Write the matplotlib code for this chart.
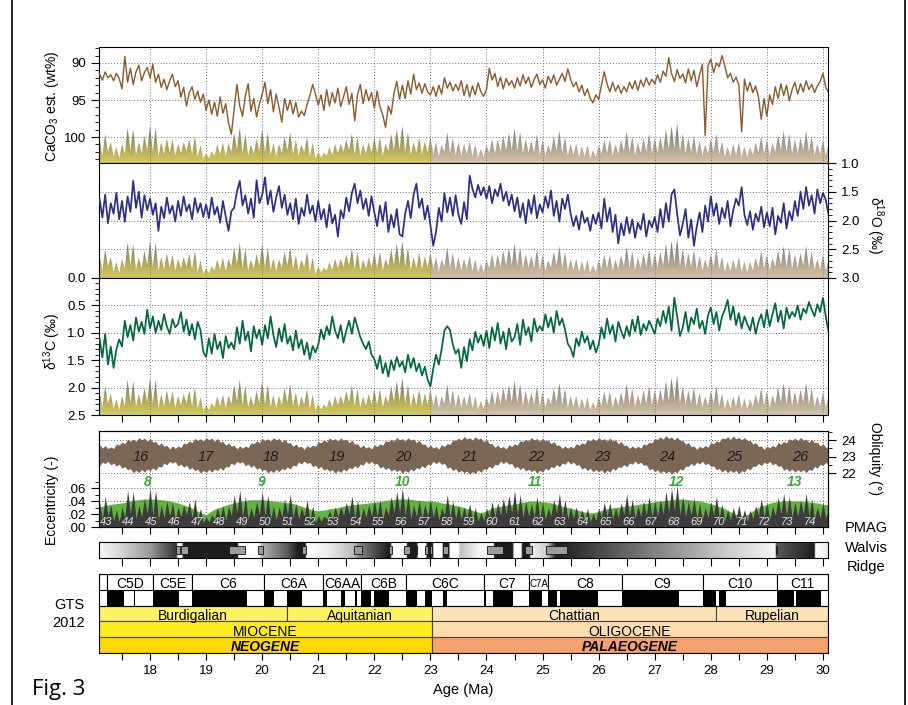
import numpy as np
import matplotlib.pyplot as plt
from matplotlib.patches import Rectangle, Polygon
from matplotlib.lines import Line2D
from matplotlib.ticker import FuncFormatter

plt.rcParams['font.family'] = ['Liberation Sans', 'DejaVu Sans']
plt.rcParams['mathtext.default'] = 'regular'

W, H = 908, 705
X0, X1 = 17.09, 30.09

# ---------------- proxy records, 0.05 Myr steps from 17.10 Ma ----------------
caco3 = [91.5, 92.3, 91.2, 92.0, 91.6, 92.4, 91.4, 92.1,
         93.5, 89.1, 92.6, 90.7, 92.9, 91.2, 90.3, 92.4, 91.3, 90.6,
         92.0, 90.2, 92.6, 91.5, 93.3, 92.2, 93.6, 92.4, 91.5, 93.2,
         92.4, 94.6, 93.3, 95.8, 94.0, 93.2, 94.9, 93.8, 95.3, 94.2,
         96.4, 95.0, 96.9, 95.3, 97.2, 94.6, 96.8, 95.5, 98.1, 99.6,
         96.3, 92.9, 95.8, 97.2, 94.4, 92.8, 96.5, 94.8, 97.3, 95.6,
         94.2, 92.6, 95.5, 93.6, 96.6, 94.2, 96.0, 98.0, 94.8, 96.4,
         95.0, 96.9, 95.3, 97.3, 96.5, 97.1, 95.6, 94.4, 92.9, 94.2,
         95.7, 94.3, 96.4, 93.6, 95.8, 94.0, 95.4, 93.4, 95.9, 94.6,
         93.2, 95.6, 94.1, 97.8, 94.3, 92.9, 95.5, 93.6, 95.1, 94.0,
         96.1, 93.8, 95.9, 97.0, 98.7, 95.8, 96.9, 94.1, 92.5, 94.9,
         93.0, 94.8, 92.4, 94.2, 91.5, 93.6, 92.7, 94.1, 92.8, 93.9,
         94.3, 93.2, 94.5, 93.0, 94.2, 92.0, 93.4, 92.6, 93.8, 92.9,
         93.7, 92.4, 94.4, 92.9, 94.6, 93.1, 94.3, 92.7, 93.9, 94.5,
         93.6, 90.7, 92.3, 91.4, 93.2, 91.9, 93.5, 92.1, 93.0, 92.4,
         93.4, 92.0, 93.1, 91.6, 92.8, 91.9, 93.3, 92.2, 91.5, 92.9,
         92.3, 93.4, 91.8, 92.7, 91.6, 93.0, 92.2, 91.4, 92.5, 90.8,
         92.2, 93.2, 92.6, 93.9, 93.0, 94.4, 93.5, 94.8, 95.4, 94.3,
         94.9, 93.0, 91.2, 92.8, 93.9, 92.6, 93.8, 93.0, 94.1, 93.2,
         93.9, 92.6, 93.5, 92.4, 93.7, 92.3, 93.2, 92.0, 93.0, 92.2,
         92.8, 91.6, 92.6, 91.1, 91.8, 89.3, 91.4, 92.5, 90.9, 92.1,
         91.5, 92.7, 90.8, 92.4, 91.0, 93.2, 91.6, 90.2, 99.8, 90.4,
         89.5, 91.3, 90.0, 90.5, 89.0, 90.4, 92.0, 91.4, 92.6, 91.9,
         93.0, 99.3, 92.2, 93.8, 92.6, 94.0, 93.1, 94.6, 97.6, 94.8,
         97.2, 94.3, 95.6, 93.2, 94.8, 92.8, 94.4, 93.0, 95.1, 93.6,
         92.6, 94.2, 92.8, 93.9, 92.4, 93.6, 92.9, 94.0, 93.1, 92.5, 91.4, 93.3, 94.0]

d18o = [1.62, 1.95, 1.55, 2.05, 1.70, 1.88, 1.52, 1.98,
        1.66, 2.02, 1.58, 1.85, 1.31, 1.78, 1.50, 1.95, 1.56, 1.82,
        1.62, 1.90, 1.70, 2.18, 1.76, 1.96, 1.60, 1.88, 1.74, 2.02,
        1.66, 1.92, 1.58, 1.84, 1.72, 1.98, 1.61, 1.86, 1.70, 1.94,
        1.72, 1.96, 1.60, 1.90, 1.76, 2.04, 1.66, 1.93, 2.18, 1.84,
        1.78, 1.50, 1.31, 1.74, 1.56, 1.88, 1.62, 1.95, 1.30, 1.70,
        1.56, 1.25, 1.72, 1.48, 1.85, 1.60, 1.40, 1.78, 1.55, 1.90,
        1.70, 1.98, 1.62, 2.06, 1.78, 1.92, 1.55, 1.88, 1.74, 2.02,
        1.66, 1.98, 1.80, 2.12, 1.72, 2.05, 1.90, 2.28, 1.82, 1.96,
        1.60, 1.84, 1.52, 1.36, 1.70, 1.48, 1.80, 1.62, 1.92, 1.58,
        1.86, 2.10, 1.74, 2.02, 1.68, 2.20, 1.90, 2.12, 1.80, 2.24,
        2.28, 1.88, 1.66, 1.96, 1.55, 1.36, 1.78, 1.62, 1.98, 1.74,
        2.08, 2.44, 2.20, 1.78, 2.02, 1.52, 1.86, 1.60, 1.92, 1.56,
        1.90, 2.06, 1.68, 1.98, 1.22, 1.45, 1.60, 1.38, 1.56, 1.42,
        1.62, 1.40, 1.70, 1.46, 1.58, 1.36, 1.66, 1.50, 1.74, 1.55,
        1.84, 1.60, 1.95, 1.70, 2.05, 1.64, 1.88, 1.56, 1.96, 1.72,
        1.86, 1.58, 1.78, 1.48, 1.92, 1.66, 2.02, 1.62, 1.80, 1.55,
        1.88, 2.10, 1.92, 2.16, 1.84, 2.04, 1.95, 2.18, 1.90, 2.06,
        1.86, 2.14, 1.62, 2.02, 1.78, 2.20, 1.90, 2.40, 2.05, 2.26,
        1.94, 2.22, 1.98, 2.30, 2.04, 2.16, 1.88, 2.28, 2.00, 2.12,
        1.94, 2.20, 1.80, 2.12, 1.70, 2.02, 1.55, 1.46, 1.88, 2.26,
        2.06, 1.80, 2.30, 1.98, 2.44, 2.10, 1.86, 2.20, 1.74, 2.02,
        1.58, 1.92, 1.70, 2.06, 1.78, 1.96, 1.66, 2.10, 1.82, 1.62,
        1.74, 1.42, 1.90, 2.08, 1.84, 2.16, 1.88, 2.02, 1.76, 2.12,
        1.86, 2.10, 1.78, 2.24, 1.92, 2.04, 1.70, 2.14, 1.84, 2.00,
        1.66, 1.92, 1.50, 1.80, 1.42, 1.74, 1.56, 1.88, 1.46, 1.70, 1.52, 1.64, 1.90]

d13c = [1.10, 1.45, 1.02, 1.58, 1.25, 1.64, 1.30, 1.12,
        1.25, 0.78, 1.08, 0.86, 1.14, 0.72, 0.98, 0.80, 1.02, 0.58,
        0.92, 0.70, 1.00, 0.78, 0.95, 0.66, 0.88, 1.02, 0.75, 0.90,
        0.84, 0.62, 0.98, 0.76, 1.05, 0.84, 1.12, 0.80, 0.95, 1.35,
        1.44, 1.10, 1.38, 1.02, 1.30, 1.16, 1.46, 1.06, 1.28, 1.18,
        1.30, 0.90, 1.20, 0.78, 1.14, 0.98, 1.34, 0.88, 1.10, 0.94,
        1.22, 0.86, 1.10, 0.70, 1.04, 1.26, 0.92, 1.16, 0.84, 1.20,
        1.06, 1.32, 0.96, 1.28, 1.12, 1.40, 1.18, 1.48, 1.24, 1.36,
        1.22, 0.94, 1.12, 0.88, 1.04, 0.70, 0.96, 1.10, 0.86, 1.18,
        0.96, 0.78, 1.02, 0.72, 0.90, 1.08, 1.20, 1.30, 1.16, 1.40,
        1.48, 1.66, 1.42, 1.74, 1.55, 1.80, 1.50, 1.68, 1.44, 1.62,
        1.52, 1.72, 1.40, 1.64, 1.46, 1.70, 1.56, 1.78, 1.62, 1.85,
        1.98, 1.66, 1.40, 1.58, 1.30, 0.96, 0.88, 0.95, 1.22, 1.38,
        1.30, 1.64, 1.26, 1.52, 1.12, 1.32, 0.98, 1.18, 1.04, 1.24,
        0.96, 1.28, 0.90, 1.14, 0.82, 1.20, 0.98, 1.30, 0.92, 1.16,
        1.08, 0.84, 1.22, 0.76, 1.04, 0.90, 1.16, 0.74, 0.98, 0.88,
        0.96, 0.66, 0.90, 0.72, 1.00, 0.60, 0.86, 0.74, 0.94, 1.20,
        1.28, 1.44, 1.10, 1.24, 0.98, 1.18, 1.06, 1.30, 1.14, 1.36,
        1.22, 0.90, 1.10, 0.74, 1.02, 0.86, 1.16, 0.80, 0.96, 1.10,
        0.88, 1.06, 0.76, 0.98, 0.70, 1.04, 0.84, 0.96, 0.78, 0.90,
        1.02, 0.74, 0.88, 0.60, 0.82, 0.52, 0.96, 0.36, 0.70, 1.06,
        0.90, 0.62, 0.98, 0.72, 0.84, 0.56, 0.92, 0.78, 1.02, 0.68,
        0.54, 0.84, 0.62, 0.96, 0.70, 0.58, 0.40, 0.76, 0.52, 0.86,
        0.64, 0.92, 0.70, 0.84, 0.96, 0.72, 1.02, 0.80, 0.66, 0.90,
        0.58, 0.88, 0.66, 0.46, 0.80, 0.60, 0.92, 0.54, 0.74, 0.62,
        0.70, 0.50, 0.76, 0.56, 0.64, 0.44, 0.58, 0.70, 0.48, 0.62, 0.36, 0.70, 0.98]

# eccentricity: maxima at 17.10, 17.20, ... and minima at 17.15, 17.25, ...
ecc_max = [.039, .047, .034, .026, .031, .057, .055, .034, .044, .060,
           .057, .034, .040, .038, .031, .034, .039, .044, .029, .016,
           .019, .030, .033, .032, .049, .057, .047, .030, .039, .055,
           .049, .032, .031, .043, .050, .037, .030, .042, .033, .018,
           .017, .026, .031, .031, .038, .048, .042, .030, .034, .042,
           .042, .031, .047, .055, .060, .049, .034, .041, .035, .042,
           .034, .030, .050, .040, .034, .031, .036, .030, .023, .029,
           .039, .038, .044, .049, .056, .050, .039, .036, .047, .038,
           .029, .043, .052, .042, .031, .031, .027, .029, .021, .029,
           .038, .038, .030, .037, .051, .043, .033, .040, .047, .040,
           .042, .055, .060, .064, .047, .040, .045, .036, .030, .039,
           .047, .035, .026, .030, .034, .027, .026, .033, .044, .038,
           .032, .045, .052, .047, .038, .041, .052, .043, .031, .038,
           .031]
ecc_min = [.012, .018, .010, .008, .015, .020, .013, .016, .021, .018,
           .011, .014, .017, .012, .016, .019, .014, .010, .007, .008,
           .012, .014, .011, .018, .022, .016, .012, .015, .019, .017,
           .013, .011, .016, .020, .014, .012, .017, .010, .007, .009,
           .012, .013, .016, .018, .020, .014, .012, .015, .017, .016,
           .012, .019, .021, .022, .018, .013, .016, .014, .017, .014,
           .011, .018, .016, .013, .012, .014, .011, .009, .010, .016,
           .015, .018, .020, .021, .019, .015, .017, .016, .013, .012,
           .017, .020, .016, .012, .013, .010, .011, .008, .010, .015,
           .016, .012, .015, .019, .017, .013, .016, .018, .016, .017,
           .020, .022, .024, .019, .016, .018, .014, .012, .015, .018,
           .014, .010, .011, .013, .010, .009, .013, .017, .015, .012,
           .018, .020, .018, .015, .016, .020, .017, .013, .014, .012]

# long-period eccentricity (green), 0.1 Myr steps from 17.1 Ma
ecc_long = [.031, .033, .035, .036, .037, .039, .041, .042, .043, .043,
            .043, .042, .041, .039, .037, .034, .031, .027, .022, .019,
            .025, .029, .032, .035, .037, .039, .041, .042, .042, .042,
            .041, .040, .039, .038, .037, .035, .032, .029, .026, .025,
            .026, .028, .029, .031, .033, .034, .035, .036, .037, .038,
            .039, .041, .042, .043, .043, .043, .042, .041, .040, .040,
            .039, .037, .036, .034, .032, .030, .027, .024, .022, .025,
            .029, .031, .033, .034, .035, .037, .039, .040, .040, .039,
            .038, .036, .033, .031, .029, .027, .024, .022, .022, .024,
            .027, .029, .030, .031, .032, .033, .035, .036, .037, .039,
            .040, .041, .042, .043, .043, .042, .041, .040, .038, .036,
            .033, .030, .026, .021, .018, .017, .022, .028, .032, .035,
            .038, .039, .040, .040, .040, .040, .039, .038, .037, .035,
            .034]

# obliquity band (degrees), upper and lower edge, 0.05 Myr steps
obl_top = [23.74, 23.51, 23.67, 23.48, 23.59, 23.49, 23.76, 23.70, 23.88, 23.78,
           24.05, 23.93, 24.06, 23.93, 24.15, 24.02, 24.12, 23.93, 24.10, 23.88,
           23.91, 23.69, 23.83, 23.63, 23.68, 23.46, 23.65, 23.50, 23.64, 23.55,
           23.83, 23.77, 23.95, 23.84, 24.10, 23.97, 24.08, 23.94, 24.15, 24.02,
           24.12, 23.93, 24.10, 23.88, 23.91, 23.69, 23.83, 23.63, 23.68, 23.46,
           23.65, 23.50, 23.64, 23.55, 23.83, 23.77, 23.95, 23.84, 24.10, 23.97,
           24.08, 23.94, 24.15, 24.01, 24.10, 23.89, 24.05, 23.82, 23.84, 23.62,
           23.76, 23.57, 23.63, 23.44, 23.67, 23.55, 23.70, 23.62, 23.90, 23.84,
           24.01, 23.89, 24.14, 23.99, 24.09, 23.94, 24.14, 23.99, 24.06, 23.84,
           23.99, 23.75, 23.77, 23.55, 23.70, 23.52, 23.61, 23.46, 23.72, 23.61,
           23.77, 23.69, 23.97, 23.90, 24.06, 23.93, 24.16, 24.00, 24.09, 23.94,
           24.14, 23.99, 24.06, 23.84, 23.99, 23.75, 23.77, 23.55, 23.70, 23.52,
           23.61, 23.46, 23.72, 23.61, 23.79, 23.73, 24.02, 23.96, 24.12, 23.99,
           24.22, 24.06, 24.15, 24.00, 24.20, 24.05, 24.12, 23.90, 24.03, 23.78,
           23.79, 23.56, 23.70, 23.52, 23.61, 23.46, 23.72, 23.61, 23.77, 23.69,
           23.97, 23.90, 24.06, 23.93, 24.16, 24.00, 24.09, 23.93, 24.12, 23.95,
           24.01, 23.78, 23.92, 23.68, 23.70, 23.49, 23.65, 23.50, 23.63, 23.51,
           23.78, 23.68, 23.84, 23.76, 24.03, 23.95, 24.10, 23.95, 24.17, 24.00,
           24.09, 23.93, 24.12, 23.95, 24.01, 23.78, 23.92, 23.68, 23.70, 23.49,
           23.65, 23.50, 23.63, 23.51, 23.78, 23.70, 23.88, 23.82, 24.10, 24.04,
           24.20, 24.05, 24.27, 24.10, 24.18, 24.01, 24.18, 23.98, 23.99, 23.75,
           23.85, 23.61, 23.64, 23.44, 23.63, 23.52, 23.68, 23.57, 23.85, 23.78,
           23.95, 23.88, 24.14, 24.07, 24.20, 24.04, 24.25, 24.08, 24.16, 24.01,
           24.16, 23.96, 23.99, 23.75, 23.85, 23.61, 23.64, 23.44, 23.63, 23.52,
           23.68, 23.57, 23.85, 23.75, 23.91, 23.82, 24.08, 23.99, 24.12, 23.96,
           24.17, 23.99, 24.06, 23.87, 24.03, 23.84, 23.88, 23.64, 23.78, 23.55, 23.61]
obl_bot = [22.44, 22.66, 22.58, 22.72, 22.49, 22.61, 22.42, 22.54, 22.30, 22.39,
           22.20, 22.27, 22.02, 22.17, 22.03, 22.22, 22.06, 22.24, 22.15, 22.32,
           22.17, 22.41, 22.35, 22.61, 22.50, 22.71, 22.60, 22.70, 22.44, 22.55,
           22.35, 22.47, 22.23, 22.33, 22.15, 22.23, 22.00, 22.16, 22.03, 22.22,
           22.06, 22.24, 22.15, 22.32, 22.17, 22.41, 22.35, 22.61, 22.50, 22.71,
           22.60, 22.70, 22.44, 22.55, 22.35, 22.47, 22.23, 22.33, 22.15, 22.23,
           22.00, 22.16, 22.03, 22.23, 22.08, 22.28, 22.20, 22.38, 22.24, 22.48,
           22.42, 22.67, 22.55, 22.73, 22.58, 22.65, 22.38, 22.48, 22.28, 22.40,
           22.17, 22.28, 22.11, 22.21, 21.99, 22.16, 22.04, 22.25, 22.12, 22.33,
           22.26, 22.45, 22.31, 22.55, 22.48, 22.72, 22.57, 22.71, 22.53, 22.59,
           22.31, 22.41, 22.21, 22.34, 22.12, 22.24, 22.09, 22.20, 21.99, 22.16,
           22.04, 22.25, 22.12, 22.33, 22.26, 22.45, 22.31, 22.55, 22.48, 22.72,
           22.57, 22.71, 22.53, 22.59, 22.29, 22.37, 22.15, 22.27, 22.05, 22.17,
           22.02, 22.13, 21.92, 22.09, 21.97, 22.18, 22.05, 22.26, 22.22, 22.42,
           22.29, 22.54, 22.48, 22.72, 22.57, 22.71, 22.53, 22.59, 22.31, 22.41,
           22.21, 22.34, 22.12, 22.24, 22.09, 22.20, 21.99, 22.17, 22.06, 22.29,
           22.17, 22.39, 22.33, 22.52, 22.38, 22.61, 22.53, 22.74, 22.55, 22.66,
           22.47, 22.52, 22.24, 22.34, 22.15, 22.29, 22.08, 22.22, 22.08, 22.20,
           21.99, 22.17, 22.06, 22.29, 22.17, 22.39, 22.33, 22.52, 22.38, 22.61,
           22.53, 22.74, 22.55, 22.66, 22.47, 22.50, 22.20, 22.28, 22.08, 22.20,
           22.00, 22.14, 22.00, 22.12, 21.92, 22.10, 22.02, 22.26, 22.18, 22.42,
           22.40, 22.59, 22.44, 22.66, 22.55, 22.72, 22.50, 22.60, 22.40, 22.43,
           22.20, 22.28, 22.06, 22.21, 22.02, 22.17, 22.04, 22.16, 21.96, 22.15,
           22.06, 22.30, 22.19, 22.42, 22.40, 22.59, 22.44, 22.66, 22.55, 22.72,
           22.50, 22.60, 22.40, 22.45, 22.17, 22.28, 22.10, 22.25, 22.06, 22.21,
           22.08, 22.21, 22.02, 22.23, 22.15, 22.40, 22.30, 22.53, 22.47, 22.65, 22.47]

# cycle labels
cyc405 = list(range(43, 75))                # 405-kyr cycles, centred at (n-0.5)*0.405 Ma
obl_cyc = list(range(16, 27))
obl_cyc_age = [17.84, 19.00, 20.16, 21.33, 22.51, 23.69, 24.88, 26.06, 27.23, 28.41, 29.59]
e24_cyc = list(range(8, 14))
e24_cyc_age = [17.95, 19.98, 22.51, 24.86, 27.39, 29.50]

# PMAG Walvis Ridge: grey level stops and uncertainty boxes
pmag_age = [17.09, 17.45, 18.00, 18.47, 18.49, 18.57, 18.59, 19.56, 19.58, 19.95, 19.99,
            20.45, 20.64, 20.77, 20.79, 21.20, 21.66, 21.70, 22.25, 22.29, 22.31, 22.57,
            22.59, 22.76, 22.78, 22.92, 22.94, 23.04, 23.06, 23.21, 23.23, 23.33, 23.35,
            23.50, 23.53, 23.88, 24.13, 24.14, 24.47, 24.49, 24.62, 24.64, 24.77, 24.79,
            25.08, 25.23, 25.27, 26.50, 27.40, 28.30, 29.15, 29.17, 29.85, 29.87, 30.09]
pmag_grey = [0.97, 0.85, 0.60, 0.20, 0.95, 0.95, 0.12, 0.12, 1.00, 1.00, 0.70,
             0.35, 0.12, 0.12, 1.00, 0.92, 0.72, 0.55, 0.12, 0.12, 1.00, 1.00,
             0.12, 0.12, 1.00, 1.00, 0.12, 0.12, 1.00, 1.00, 0.12, 0.12, 1.00,
             1.00, 0.75, 0.97, 0.97, 0.12, 0.12, 1.00, 1.00, 0.12, 0.12, 0.95,
             0.80, 0.15, 0.12, 0.40, 0.60, 0.80, 0.96, 0.35, 0.12, 1.00, 0.92]
pmag_boxes = [(18.46, 18.53), (18.55, 18.68), (19.41, 19.69), (19.93, 20.01), (20.71, 20.78),
              (21.64, 21.78), (22.26, 22.31), (22.53, 22.63), (22.74, 22.76), (22.90, 22.96),
              (22.99, 23.03), (23.22, 23.31), (24.01, 24.29), (24.68, 24.81), (25.06, 25.43),
              (29.16, 29.18)]

# GTS 2012
chron_names = ['', 'C5D', 'C5E', 'C6', 'C6A', 'C6AA', 'C6B', 'C6C', 'C7', 'C7A', 'C8', 'C9', 'C10', 'C11']
chron_edges = [17.09, 17.235, 18.056, 18.748, 20.040, 21.083, 21.767, 22.564, 23.962,
               24.761, 25.099, 26.420, 27.859, 29.183, 30.09]
normal = [(17.235, 17.533), (17.717, 17.740), (18.056, 18.524), (18.748, 19.722),
          (20.040, 20.213), (20.439, 20.709), (21.083, 21.159), (21.403, 21.483),
          (21.659, 21.688), (21.767, 21.936), (21.992, 22.268), (22.564, 22.754),
          (22.902, 23.030), (23.233, 23.295), (23.962, 24.000), (24.109, 24.474),
          (24.761, 24.984), (25.099, 25.264), (25.304, 25.987), (26.420, 27.439),
          (27.859, 28.087), (28.141, 28.278), (29.183, 29.477), (29.527, 29.970)]
stages = [('Burdigalian', 17.09, 20.44), ('Aquitanian', 20.44, 23.03),
          ('Chattian', 23.03, 28.09), ('Rupelian', 28.09, 30.09)]
epochs = [('MIOCENE', 17.09, 23.03), ('OLIGOCENE', 23.03, 30.09)]
periods = [('NEOGENE', 17.09, 23.03), ('PALAEOGENE', 23.03, 30.09)]
stage_col = ['#fff35f', '#fff35f', '#fde3b6', '#fde3b6']
epoch_col = ['#ffec1e', '#fddcab']
period_col = ['#ffd900', '#f5a26e']

age = 17.10 + 0.05 * np.arange(len(caco3))
age_long = 17.10 + 0.1 * np.arange(len(ecc_long))
ecc = np.empty(len(ecc_max) + len(ecc_min))
ecc[0::2] = ecc_max
ecc[1::2] = ecc_min

fig = plt.figure(figsize=(W / 100, H / 100), dpi=100)


def panel(top, bottom):
    return fig.add_axes([99 / W, 1 - bottom / H, 729 / W, (bottom - top) / H])


GRID = dict(color='#707070', ls=(0, (1, 2)), lw=0.7, zorder=2)


def vgrid(ax):
    for t in range(18, 31):
        ax.axvline(t, **GRID)


def out_xticks(ax, length=5):
    ax.set_xticks(np.arange(17.5, 30.01, 0.5))
    ax.tick_params(axis='x', direction='out', length=length, width=0.8, labelbottom=False)


SPIKE = 37 / 0.06   # px per unit eccentricity for the grey curves


def ecc_shade(ax, h_px):
    frac = ecc * SPIKE / h_px
    tr = ax.get_xaxis_transform()
    verts = np.column_stack([np.r_[age[0], age, age[-1]], np.r_[0, frac, 0]])
    poly = Polygon(verts, closed=True, transform=tr, fc='none', ec='none')
    top = frac.max()
    g = np.linspace(0, 1, 100)[:, None, None]
    for xa, xb, cb, ct in ((X0, 23.03, (0.84, 0.80, 0.36), (0.42, 0.42, 0.40)),
                           (23.03, X1, (0.84, 0.77, 0.66), (0.44, 0.43, 0.42))):
        img = np.array(cb) * (1 - g) + np.array(ct) * g
        im = ax.imshow(img, extent=(xa, xb, 0, top), origin='lower', aspect='auto',
                       transform=tr, interpolation='bilinear', zorder=1)
        im.set_clip_path(poly)


def ytick_style(ax, side):
    ax.tick_params(axis='y', which='major', direction='out', length=6, width=0.8, labelsize=9.5)
    ax.tick_params(axis='y', which='minor', direction='out', length=3, width=0.6)
    if side == 'right':
        ax.yaxis.tick_right()


# ---------------- CaCO3 ----------------
ax1 = panel(47, 163)
ecc_shade(ax1, 116)
ax1.plot(age, caco3, color='#8a5a2b', lw=1.0, zorder=3)
vgrid(ax1)
for v in (90, 95, 100):
    ax1.axhline(v, **GRID)
ax1.set_yticks([90, 95, 100])
ax1.set_yticks(np.arange(88, 104), minor=True)
ytick_style(ax1, 'left')
ax1.set_xticks([])
ax1.set_xlim(X0, X1)
ax1.set_ylim(103.51, 87.84)

# ---------------- d18O ----------------
ax2 = panel(163, 278)
ecc_shade(ax2, 115)
ax2.plot(age, d18o, color='#2d2f85', lw=1.25, zorder=3)
vgrid(ax2)
for v in (1.5, 2.0, 2.5):
    ax2.axhline(v, **GRID)
ax2.set_yticks([1.0, 1.5, 2.0, 2.5, 3.0])
ax2.set_yticks(np.arange(1.0, 3.01, 0.1), minor=True)
ax2.yaxis.set_major_formatter(FuncFormatter(lambda v, p: f'{v:.1f}'))
ytick_style(ax2, 'right')
ax2.set_xticks([])
ax2.set_xlim(X0, X1)
ax2.set_ylim(3.0, 1.0)

# ---------------- d13C ----------------
ax3 = panel(278, 415)
ecc_shade(ax3, 137)
ax3.plot(age, d13c, color='#00683a', lw=1.25, zorder=3)
vgrid(ax3)
for v in (0.5, 1.0, 1.5, 2.0):
    ax3.axhline(v, **GRID)
ax3.set_yticks([0.0, 0.5, 1.0, 1.5, 2.0, 2.5])
ax3.set_yticks(np.arange(0.0, 2.51, 0.1), minor=True)
ax3.yaxis.set_major_formatter(FuncFormatter(lambda v, p: f'{v:.1f}'))
ytick_style(ax3, 'left')
out_xticks(ax3)
ax3.set_xlim(X0, X1)
ax3.set_ylim(2.5, 0.0)

# ---------------- eccentricity / obliquity ----------------
ax4 = panel(431, 527)
ax4.fill_between(age_long, 0, ecc_long, color='#62b340', lw=0, zorder=2)
ax4.fill_between(age, 0, ecc, color='#3c3c3c', lw=0, zorder=3)
vgrid(ax4)
for v in (0.04, 0.06):
    ax4.axhline(v, **GRID)
for n in cyc405:
    ax4.text((n - 0.5) * 0.405, 0.0075, str(n), color='#e4e4e4', fontsize=8,
             style='italic', ha='center', va='center', zorder=5)
for n, a in zip(e24_cyc, e24_cyc_age):
    ax4.text(a, 0.069, str(n), color='#3aaa35', fontsize=10, style='italic',
             weight='bold', ha='center', va='center', zorder=5)
ax4.set_yticks([0, 0.02, 0.04, 0.06])
ax4.set_yticks([0.01, 0.03, 0.05, 0.07], minor=True)
ax4.yaxis.set_major_formatter(FuncFormatter(lambda v, p: f'{v:.2f}'.lstrip('0')))
ytick_style(ax4, 'left')
out_xticks(ax4)
ax4.set_xlim(X0, X1)
ax4.set_ylim(0, 0.1477)

ax4b = ax4.twinx()
ax4b.fill_between(age, obl_bot, obl_top, color='#7a6756', lw=0, zorder=2)
for v in (22, 24):
    ax4b.axhline(v, **GRID)
for n, a in zip(obl_cyc, obl_cyc_age):
    ax4b.text(a, 23.0, str(n), color='#1e1e1e', fontsize=10.5, style='italic',
              ha='center', va='center', zorder=5)
ax4b.set_yticks([22, 23, 24])
ax4b.set_yticks([22.5, 23.5, 24.5], minor=True)
ytick_style(ax4b, 'right')
ax4b.set_xlim(X0, X1)
ax4b.set_ylim(18.73, 24.55)

# ---------------- PMAG Walvis Ridge ----------------
axp = panel(542, 558)
xs = np.linspace(X0, X1, 3000)
grey = np.interp(xs, pmag_age, pmag_grey)
axp.imshow(grey[None, :], cmap='gray', vmin=0, vmax=1, extent=(X0, X1, 0, 1),
           aspect='auto', interpolation='bilinear')
for a, b in pmag_boxes:
    axp.add_patch(Rectangle((a, 0.28), b - a, 0.44, fc='#9c9c9c', ec='#111111', lw=0.6))
axp.set_yticks([])
out_xticks(axp, 6)
axp.set_xlim(X0, X1)
axp.set_ylim(0, 1)

# ---------------- GTS 2012 ----------------
axg = panel(574, 653)
TXT = dict(ha='center', va='center_baseline', fontsize=10)
for i, name in enumerate(chron_names):
    a, b = chron_edges[i], chron_edges[i + 1]
    axg.add_patch(Rectangle((a, 4), b - a, 1, fc='white', ec='black', lw=0.8))
    if name == 'C7A':
        axg.text((a + b) / 2, 4.45, name, ha='center', va='center_baseline', fontsize=7,
                 fontstretch='condensed')
    elif name:
        axg.text((a + b) / 2, 4.45, name, **TXT)
for a, b in normal:
    axg.add_patch(Rectangle((a, 3), b - a, 1, fc='black', lw=0))
for (name, a, b), c in zip(stages, stage_col):
    axg.add_patch(Rectangle((a, 2), b - a, 1, fc=c, ec='#444444', lw=0.8))
    axg.text((a + b) / 2, 2.45, name, **TXT)
for (name, a, b), c in zip(epochs, epoch_col):
    axg.add_patch(Rectangle((a, 1), b - a, 1, fc=c, ec='#444444', lw=0.8))
    axg.text((a + b) / 2, 1.45, name, **TXT)
for (name, a, b), c in zip(periods, period_col):
    axg.add_patch(Rectangle((a, 0), b - a, 1, fc=c, ec='#444444', lw=0.8))
    axg.text((a + b) / 2, 0.45, name, style='italic', weight='bold', **TXT)
axg.axhline(3, color='black', lw=0.8)
axg.set_yticks([])
axg.set_xticks(range(18, 31))
axg.set_xticks(np.arange(17.5, 30.01, 0.5), minor=True)
axg.tick_params(axis='x', which='both', direction='out', length=5, width=0.8,
                labelsize=9.5, pad=4)
axg.set_xlim(X0, X1)
axg.set_ylim(0, 5)

# ---------------- labels ----------------
fig.text(52 / W, 1 - 106 / H, 'CaCO$_3$ est. (wt%)', rotation=90, ha='center', va='center', fontsize=10)
fig.text(875 / W, 1 - 225 / H, 'δ$^{18}$O (‰)', rotation=270, ha='center', va='center', fontsize=10)
fig.text(52 / W, 1 - 341 / H, 'δ$^{13}$C (‰)', rotation=90, ha='center', va='center', fontsize=10)
fig.text(52 / W, 1 - 500 / H, 'Eccentricity (-)', rotation=90, ha='center', va='center', fontsize=10)
fig.text(875 / W, 1 - 458 / H, 'Obliquity (°)', rotation=270, ha='center', va='center', fontsize=10)
for txt, y in (('PMAG', 528), ('Walvis', 548), ('Ridge', 567)):
    fig.text(866 / W, 1 - y / H, txt, ha='center', va='center', fontsize=10.5)
fig.text(69 / W, 1 - 605 / H, 'GTS', ha='center', va='center', fontsize=10.5)
fig.text(69 / W, 1 - 623 / H, '2012', ha='center', va='center', fontsize=10.5)
fig.text(463 / W, 1 - 690 / H, 'Age (Ma)', ha='center', va='center', fontsize=10.5)
fig.text(32 / W, 1 - 690 / H, 'Fig. 3', ha='left', va='center', fontsize=16,
         family=['Open Sans', 'DejaVu Sans'])

for x in (12, 905):
    fig.add_artist(Line2D([x / W, x / W], [0, 1], transform=fig.transFigure, color='black', lw=1.2))

fig.savefig('out.png', dpi=100)
